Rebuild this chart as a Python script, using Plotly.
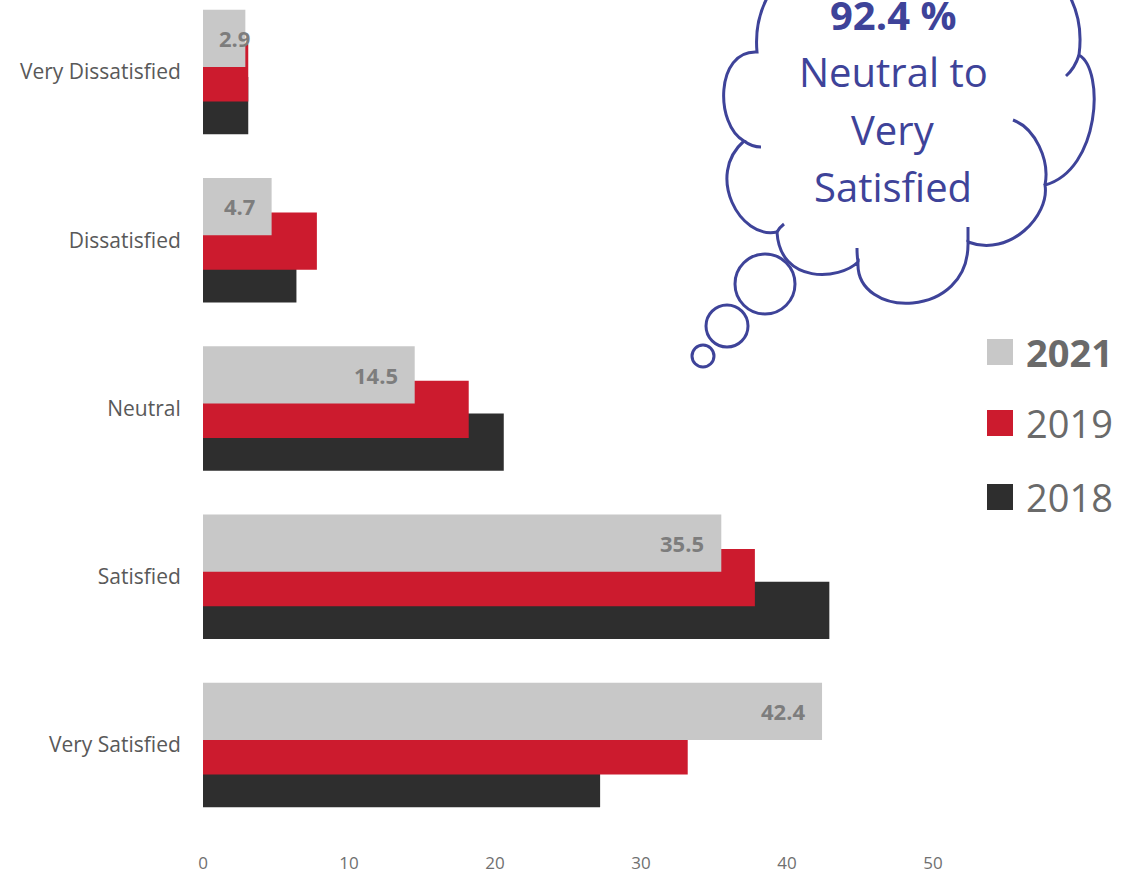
import plotly.graph_objects as go

# ---------------- data ----------------
categories = ["Very Dissatisfied", "Dissatisfied", "Neutral", "Satisfied", "Very Satisfied"]
v2021 = [2.9, 4.7, 14.5, 35.5, 42.4]
v2019 = [3.1, 7.8, 18.2, 37.8, 33.2]
v2018 = [3.1, 6.4, 20.6, 42.9, 27.2]
years = ["2021", "2019", "2018"]
x_ticks = [0, 10, 20, 30, 40, 50]
cloud_lines = ["<b>92.4 %</b>", "Neutral to", "Very", "Satisfied"]

# ---------------- style ----------------
W, H = 1123, 874
ML, MB = 203, 34
PW, PH = W - ML, H - MB
C2021, C2019, C2018 = "#c8c8c8", "#cc1b2e", "#2e2e2e"
CLOUD = "#3e4399"
FONT = "Open Sans"

def px(x):
    return (x - ML) / PW

def py(y):
    return (PH - y) / PH

def pt(x, y):
    return f"{px(x):.5f},{py(y):.5f}"

fig = go.Figure()
series = [("2018", v2018, C2018, 0.03), ("2019", v2019, C2019, -0.165), ("2021", v2021, C2021, -0.37)]
for name, vals, col, off in series:
    fig.add_trace(go.Bar(
        y=categories, x=vals, name=name, orientation="h",
        marker=dict(color=col, line=dict(width=0)),
        width=0.34, offset=off, showlegend=False, hoverinfo="x+name",
    ))

annotations = []
# data labels on 2021 bars
lab_font = dict(family=FONT, size=22, color="#7d7d7d", weight="bold")
for cat, v in zip(categories, v2021):
    if v < 4:
        annotations.append(dict(x=0, y=cat, xref="x", yref="y", text=f"{v}", showarrow=False,
                                xanchor="left", xshift=14, yshift=34, font=lab_font))
    else:
        annotations.append(dict(x=v, y=cat, xref="x", yref="y", text=f"{v}", showarrow=False,
                                xanchor="right", xshift=-15, yshift=34, font=lab_font))

# manual legend
leg_y = [352, 423, 497]
leg_cols = [C2021, C2019, C2018]
shapes = []
for yy, col, name in zip(leg_y, leg_cols, years):
    shapes.append(dict(type="rect", xref="paper", yref="paper",
                       x0=px(987), x1=px(1013), y0=py(yy + 13), y1=py(yy - 13),
                       fillcolor=col, line=dict(width=0)))
    txt = f"<b>{name}</b>" if name == "2021" else name
    annotations.append(dict(x=px(1024), y=py(yy), xref="paper", yref="paper", text=txt,
                            showarrow=False, xanchor="left", yanchor="middle",
                            font=dict(family=FONT, size=38, color="#6a6a6a")))

# thought cloud outline
path = (
    f"M {pt(757,52)} "
    f"C {pt(742,-115)} {pt(1102,-115)} {pt(1079,55)} "
    f"C {pt(1105,70)} {pt(1100,170)} {pt(1045,185)} "
    f"C {pt(1050,215)} {pt(1010,258)} {pt(968,242)} "
    f"C {pt(970,320)} {pt(855,320)} {pt(858,262)} "
    f"C {pt(840,280)} {pt(780,285)} {pt(777,232)} "
    f"C {pt(740,240)} {pt(705,175)} {pt(744,141)} "
    f"C {pt(715,125)} {pt(715,50)} {pt(757,52)} Z"
)
shapes.append(dict(type="path", xref="paper", yref="paper", path=path,
                   fillcolor="white", line=dict(color=CLOUD, width=3), layer="above"))
hooks = [
    f"M {pt(1013,120)} C {pt(1035,128)} {pt(1050,160)} {pt(1045,185)}",
    f"M {pt(1079,55)} Q {pt(1075,68)} {pt(1066,76)}",
    f"M {pt(744,141)} Q {pt(752,147)} {pt(761,147)}",
    f"M {pt(777,232)} Q {pt(779,228)} {pt(784,224)}",
    f"M {pt(858,262)} Q {pt(857,256)} {pt(857,248)}",
    f"M {pt(968,242)} L {pt(968,227)}",
]
for hp in hooks:
    shapes.append(dict(type="path", xref="paper", yref="paper", path=hp,
                       line=dict(color=CLOUD, width=3), layer="above"))
for cx, cy, r in [(765, 284, 30), (727, 326, 21), (703, 356, 11)]:
    shapes.append(dict(type="circle", xref="paper", yref="paper",
                       x0=px(cx - r), x1=px(cx + r), y0=py(cy + r), y1=py(cy - r),
                       fillcolor="white", line=dict(color=CLOUD, width=3), layer="above"))

for txt, yy in zip(cloud_lines, [14, 71, 129, 186]):
    annotations.append(dict(x=px(893), y=py(yy), xref="paper", yref="paper", text=txt,
                            showarrow=False, xanchor="center", yanchor="middle",
                            font=dict(family=FONT, size=40, color=CLOUD)))

fig.update_layout(
    width=W, height=H,
    margin=dict(l=ML, r=0, t=0, b=MB, pad=0),
    barmode="overlay",
    plot_bgcolor="white", paper_bgcolor="white",
    font=dict(family=FONT, color="#595959"),
    annotations=annotations, shapes=shapes,
    xaxis=dict(range=[0, PW / 14.6], tickvals=x_ticks, showgrid=False, zeroline=False,
               showline=False, ticks="outside", ticklen=8, tickcolor="rgba(0,0,0,0)",
               tickfont=dict(family=FONT, size=17, color="#707070"), fixedrange=True),
    yaxis=dict(type="category", categoryorder="array", categoryarray=categories,
               range=[4 + (PH - 745) / 168.25, -72 / 168.25],
               showgrid=False, zeroline=False, showline=False,
               ticks="outside", ticklen=17, tickcolor="rgba(0,0,0,0)",
               tickfont=dict(family=FONT, size=21, color="#595959"), fixedrange=True),
)

fig.write_html("out.html")
